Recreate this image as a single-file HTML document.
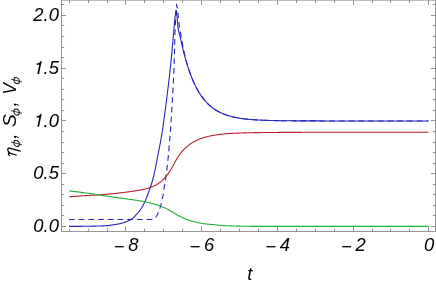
<!DOCTYPE html>
<html><head><meta charset="utf-8"><title>plot</title>
<style>
html,body{margin:0;padding:0;background:#fff;}
body{width:436px;height:284px;overflow:hidden;}
svg{display:block;will-change:transform;}
text{font-family:"Liberation Sans",sans-serif;font-style:italic;font-size:18.4px;fill:#000;}
.up{font-style:normal;}
.gr{font-family:"Liberation Serif",serif;font-style:italic;}
</style></head><body>
<svg width="436" height="284" viewBox="0 0 436 284">
<rect x="0" y="0" width="436" height="284" fill="#fff"/>
<g fill="none" stroke-linejoin="round" stroke-width="1.1">
<path stroke="#2424be" d="M69.00 226.40 L69.50 226.40 L70.00 226.40 L70.50 226.40 L71.00 226.40 L71.50 226.40 L72.00 226.40 L72.50 226.39 L73.00 226.39 L73.50 226.39 L74.00 226.39 L74.50 226.38 L75.00 226.38 L75.50 226.38 L76.00 226.38 L76.50 226.37 L77.00 226.37 L77.50 226.37 L78.00 226.36 L78.50 226.36 L79.00 226.35 L79.50 226.35 L80.00 226.35 L80.50 226.34 L81.00 226.34 L81.50 226.33 L82.00 226.33 L82.50 226.32 L83.00 226.32 L83.50 226.31 L84.00 226.31 L84.50 226.30 L85.00 226.30 L85.50 226.29 L86.00 226.29 L86.50 226.28 L87.00 226.27 L87.50 226.27 L88.00 226.26 L88.50 226.25 L89.00 226.24 L89.50 226.23 L90.00 226.22 L90.50 226.21 L91.00 226.20 L91.50 226.19 L92.00 226.17 L92.50 226.16 L93.00 226.15 L93.50 226.14 L94.00 226.13 L94.50 226.11 L95.00 226.10 L95.50 226.09 L96.00 226.07 L96.50 226.06 L97.00 226.05 L97.50 226.03 L98.00 226.02 L98.50 226.01 L99.00 225.99 L99.50 225.98 L100.00 225.96 L100.50 225.95 L101.00 225.93 L101.50 225.91 L102.00 225.89 L102.50 225.87 L103.00 225.85 L103.50 225.83 L104.00 225.81 L104.50 225.78 L105.00 225.76 L105.50 225.73 L106.00 225.70 L106.50 225.67 L107.00 225.63 L107.50 225.58 L108.00 225.53 L108.50 225.47 L109.00 225.41 L109.50 225.34 L110.00 225.28 L110.50 225.21 L111.00 225.14 L111.50 225.07 L112.00 225.00 L112.50 224.93 L113.00 224.86 L113.50 224.79 L114.00 224.72 L114.50 224.64 L115.00 224.56 L115.50 224.48 L116.00 224.40 L116.50 224.32 L117.00 224.23 L117.50 224.14 L118.00 224.04 L118.50 223.94 L119.00 223.84 L119.50 223.73 L120.00 223.62 L120.50 223.50 L121.00 223.38 L121.50 223.25 L122.00 223.12 L122.50 222.98 L123.00 222.84 L123.50 222.69 L124.00 222.54 L124.50 222.38 L125.00 222.21 L125.50 222.04 L126.00 221.85 L126.50 221.66 L127.00 221.46 L127.50 221.25 L128.00 221.02 L128.50 220.78 L129.00 220.53 L129.50 220.27 L130.00 219.99 L130.50 219.70 L131.00 219.39 L131.50 219.07 L132.00 218.72 L132.50 218.33 L133.00 217.92 L133.50 217.48 L134.00 217.02 L134.50 216.54 L135.00 216.04 L135.50 215.52 L136.00 214.99 L136.50 214.44 L137.00 213.89 L137.50 213.33 L138.00 212.76 L138.50 212.16 L139.00 211.54 L139.50 210.89 L140.00 210.21 L140.50 209.50 L141.00 208.77 L141.50 208.00 L142.00 207.20 L142.50 206.35 L143.00 205.45 L143.50 204.52 L144.00 203.54 L144.50 202.52 L145.00 201.45 L145.50 200.31 L146.00 199.11 L146.50 197.85 L147.00 196.54 L147.20 196.00 L147.39 195.50 L147.58 195.00 L147.77 194.50 L147.96 194.00 L148.15 193.50 L148.33 193.00 L148.51 192.50 L148.70 192.00 L148.87 191.50 L149.05 191.00 L149.23 190.50 L149.40 190.00 L149.57 189.50 L149.74 189.00 L149.91 188.50 L150.09 188.00 L150.26 187.50 L150.43 187.00 L150.60 186.50 L150.77 186.00 L150.93 185.50 L151.10 185.00 L151.27 184.50 L151.43 184.00 L151.59 183.50 L151.75 183.00 L151.91 182.50 L152.06 182.00 L152.22 181.50 L152.37 181.00 L152.51 180.50 L152.66 180.00 L152.80 179.50 L152.94 179.00 L153.07 178.50 L153.20 178.00 L153.33 177.50 L153.45 177.00 L153.58 176.50 L153.70 176.00 L153.82 175.50 L153.93 175.00 L154.05 174.50 L154.17 174.00 L154.28 173.50 L154.39 173.00 L154.50 172.50 L154.61 172.00 L154.72 171.50 L154.82 171.00 L154.93 170.50 L155.03 170.00 L155.14 169.50 L155.24 169.00 L155.34 168.50 L155.44 168.00 L155.54 167.50 L155.64 167.00 L155.74 166.50 L155.84 166.00 L155.93 165.50 L156.03 165.00 L156.13 164.50 L156.22 164.00 L156.32 163.50 L156.42 163.00 L156.52 162.50 L156.61 162.00 L156.71 161.50 L156.81 161.00 L156.90 160.50 L157.00 160.00 L157.10 159.50 L157.20 159.00 L157.30 158.50 L157.40 158.00 L157.49 157.50 L157.59 157.00 L157.69 156.50 L157.79 156.00 L157.89 155.50 L157.99 155.00 L158.08 154.50 L158.18 154.00 L158.28 153.50 L158.38 153.00 L158.47 152.50 L158.57 152.00 L158.67 151.50 L158.76 151.00 L158.86 150.50 L158.96 150.00 L159.05 149.50 L159.15 149.00 L159.25 148.50 L159.34 148.00 L159.44 147.50 L159.53 147.00 L159.63 146.50 L159.72 146.00 L159.81 145.50 L159.91 145.00 L160.00 144.50 L160.09 144.00 L160.19 143.50 L160.28 143.00 L160.37 142.50 L160.46 142.00 L160.55 141.50 L160.64 141.00 L160.73 140.50 L160.82 140.00 L160.91 139.50 L161.00 139.00 L161.09 138.50 L161.18 138.00 L161.26 137.50 L161.35 137.00 L161.44 136.50 L161.52 136.00 L161.61 135.50 L161.69 135.00 L161.77 134.50 L161.86 134.00 L161.94 133.50 L162.02 133.00 L162.10 132.50 L162.18 132.00 L162.26 131.50 L162.34 131.00 L162.42 130.50 L162.50 130.00 L162.58 129.50 L162.65 129.00 L162.73 128.50 L162.80 128.00 L162.87 127.50 L162.94 127.00 L163.02 126.50 L163.08 126.00 L163.15 125.50 L163.22 125.00 L163.29 124.50 L163.36 124.00 L163.43 123.50 L163.49 123.00 L163.56 122.50 L163.63 122.00 L163.70 121.50 L163.76 121.00 L163.83 120.50 L163.90 120.00 L163.97 119.50 L164.04 119.00 L164.11 118.50 L164.17 118.00 L164.24 117.50 L164.31 117.00 L164.38 116.50 L164.45 116.00 L164.52 115.50 L164.58 115.00 L164.65 114.50 L164.72 114.00 L164.79 113.50 L164.86 113.00 L164.92 112.50 L164.99 112.00 L165.06 111.50 L165.12 111.00 L165.19 110.50 L165.26 110.00 L165.33 109.50 L165.39 109.00 L165.46 108.50 L165.52 108.00 L165.59 107.50 L165.66 107.00 L165.72 106.50 L165.79 106.00 L165.85 105.50 L165.92 105.00 L165.98 104.50 L166.05 104.00 L166.11 103.50 L166.17 103.00 L166.24 102.50 L166.30 102.00 L166.36 101.50 L166.43 101.00 L166.49 100.50 L166.55 100.00 L166.61 99.50 L166.68 99.00 L166.74 98.50 L166.80 98.00 L166.86 97.50 L166.93 97.00 L166.99 96.50 L167.05 96.00 L167.11 95.50 L167.17 95.00 L167.23 94.50 L167.30 94.00 L167.36 93.50 L167.42 93.00 L167.48 92.50 L167.54 92.00 L167.60 91.50 L167.66 91.00 L167.72 90.50 L167.78 90.00 L167.85 89.50 L167.91 89.00 L167.97 88.50 L168.03 88.00 L168.09 87.50 L168.15 87.00 L168.21 86.50 L168.27 86.00 L168.33 85.50 L168.38 85.00 L168.44 84.50 L168.50 84.00 L168.56 83.50 L168.62 83.00 L168.68 82.50 L168.74 82.00 L168.80 81.50 L168.85 81.00 L168.91 80.50 L168.97 80.00 L169.03 79.50 L169.08 79.00 L169.14 78.50 L169.20 78.00 L169.26 77.50 L169.31 77.00 L169.37 76.50 L169.43 76.00 L169.48 75.50 L169.54 75.00 L169.59 74.50 L169.65 74.00 L169.70 73.50 L169.76 73.00 L169.81 72.50 L169.87 72.00 L169.92 71.50 L169.98 71.00 L170.03 70.50 L170.09 70.00 L170.14 69.50 L170.19 69.00 L170.25 68.50 L170.30 68.00 L170.35 67.50 L170.41 67.00 L170.46 66.50 L170.51 66.00 L170.56 65.50 L170.61 65.00 L170.67 64.50 L170.72 64.00 L170.77 63.50 L170.82 63.00 L170.87 62.50 L170.92 62.00 L170.97 61.50 L171.02 61.00 L171.07 60.50 L171.12 60.00 L171.17 59.50 L171.22 59.00 L171.27 58.50 L171.32 58.00 L171.37 57.50 L171.42 57.00 L171.47 56.50 L171.52 56.00 L171.56 55.50 L171.61 55.00 L171.66 54.50 L171.71 54.00 L171.76 53.50 L171.81 53.00 L171.85 52.50 L171.90 52.00 L171.95 51.50 L172.00 51.00 L172.04 50.50 L172.09 50.00 L172.14 49.50 L172.19 49.00 L172.23 48.50 L172.28 48.00 L172.33 47.50 L172.37 47.00 L172.42 46.50 L172.47 46.00 L172.51 45.50 L172.56 45.00 L172.60 44.50 L172.65 44.00 L172.70 43.50 L172.74 43.00 L172.79 42.50 L172.83 42.00 L172.88 41.50 L172.93 41.00 L172.97 40.50 L173.02 40.00 L173.06 39.50 L173.11 39.00 L173.15 38.50 L173.20 38.00 L173.25 37.50 L173.29 37.00 L173.33 36.50 L173.38 36.00 L173.42 35.50 L173.47 35.00 L173.51 34.50 L173.55 34.00 L173.60 33.50 L173.64 33.00 L173.68 32.50 L173.73 32.00 L173.77 31.50 L173.81 31.00 L173.86 30.50 L173.90 30.00 L173.94 29.50 L173.99 29.00 L174.03 28.50 L174.07 28.00 L174.12 27.50 L174.16 27.00 L174.20 26.50 L174.25 26.00 L174.29 25.50 L174.33 25.00 L174.38 24.50 L174.42 24.00 L174.47 23.50 L174.51 23.00 L174.56 22.50 L174.60 22.00 L174.65 21.50 L174.70 21.00 L174.75 20.50 L174.80 20.00 L174.85 19.50 L174.90 19.00 L174.95 18.50 L175.00 18.00 L175.06 17.50 L175.11 17.00 L175.17 16.50 L175.22 16.00 L175.28 15.50 L175.34 15.00 L175.40 14.50 L175.46 14.00 L175.53 13.50 L175.60 13.00 L175.67 12.50 L175.74 12.00 L175.80 11.60 L176.10 10.60 L176.45 11.60 L176.51 12.10 L176.58 12.60 L176.64 13.10 L176.70 13.60 L176.76 14.10 L176.81 14.60 L176.86 15.10 L176.91 15.60 L176.96 16.10 L177.00 16.60 L177.04 17.10 L177.09 17.60 L177.13 18.10 L177.17 18.60 L177.22 19.10 L177.26 19.60 L177.31 20.10 L177.36 20.60 L177.40 21.10 L177.45 21.60 L177.49 22.10 L177.53 22.60 L177.58 23.10 L177.62 23.60 L177.67 24.10 L177.71 24.60 L177.76 25.10 L177.81 25.60 L177.87 26.10 L177.92 26.60 L177.98 27.10 L178.05 27.60 L178.11 28.10 L178.19 28.60 L178.28 29.10 L178.37 29.60 L178.47 30.10 L178.58 30.60 L178.69 31.10 L178.81 31.60 L178.93 32.10 L179.06 32.60 L179.19 33.10 L179.32 33.60 L179.46 34.10 L179.59 34.60 L179.72 35.10 L179.86 35.60 L179.99 36.10 L180.11 36.60 L180.24 37.10 L180.36 37.60 L180.47 38.10 L180.58 38.60 L180.70 39.10 L180.81 39.60 L180.92 40.10 L181.03 40.60 L181.14 41.10 L181.24 41.60 L181.35 42.10 L181.46 42.60 L181.57 43.10 L181.67 43.60 L181.76 44.00 L182.14 45.65 L182.51 47.27 L182.89 48.86 L183.27 50.41 L183.65 51.92 L184.03 53.41 L184.41 54.86 L184.79 56.28 L185.16 57.67 L185.54 59.03 L185.92 60.36 L186.30 61.66 L186.68 62.94 L187.06 64.18 L187.44 65.40 L187.81 66.60 L188.19 67.77 L188.57 68.91 L188.95 70.03 L189.33 71.12 L189.71 72.19 L190.09 73.24 L190.47 74.27 L190.84 75.27 L191.22 76.25 L191.60 77.21 L191.98 78.15 L192.36 79.07 L192.74 79.97 L193.12 80.85 L193.49 81.72 L193.87 82.56 L194.25 83.38 L194.63 84.19 L195.01 84.98 L195.39 85.75 L195.77 86.51 L196.14 87.25 L196.52 87.98 L196.90 88.68 L197.28 89.38 L197.66 90.06 L198.04 90.72 L198.42 91.37 L198.79 92.01 L199.17 92.63 L199.55 93.24 L199.93 93.83 L200.31 94.42 L200.69 94.99 L201.07 95.54 L201.44 96.09 L201.82 96.62 L202.20 97.15 L202.58 97.66 L202.96 98.16 L203.34 98.65 L203.72 99.13 L204.09 99.60 L204.47 100.06 L204.85 100.51 L205.23 100.95 L205.61 101.38 L205.99 101.80 L206.37 102.21 L206.74 102.61 L207.12 103.00 L207.50 103.39 L207.88 103.77 L208.26 104.14 L208.64 104.50 L209.02 104.85 L209.40 105.20 L209.77 105.54 L210.15 105.87 L210.53 106.19 L210.91 106.51 L211.29 106.82 L211.67 107.12 L212.05 107.42 L212.42 107.71 L212.80 108.00 L213.18 108.27 L213.56 108.55 L213.94 108.81 L214.32 109.07 L214.70 109.33 L215.07 109.58 L215.45 109.82 L215.83 110.06 L216.21 110.30 L216.59 110.53 L216.97 110.75 L217.35 110.97 L217.72 111.18 L218.10 111.39 L218.48 111.60 L218.86 111.80 L219.24 112.00 L219.62 112.19 L220.00 112.38 L220.37 112.56 L220.75 112.74 L221.13 112.92 L221.51 113.09 L221.89 113.26 L222.27 113.43 L222.65 113.59 L223.02 113.75 L223.40 113.90 L223.78 114.05 L224.16 114.20 L224.54 114.35 L224.92 114.49 L225.30 114.63 L225.67 114.76 L226.05 114.90 L226.43 115.03 L226.81 115.15 L227.19 115.28 L227.57 115.40 L227.95 115.52 L228.33 115.64 L228.70 115.75 L229.08 115.86 L229.46 115.97 L229.84 116.08 L230.22 116.18 L230.60 116.28 L230.98 116.39 L231.35 116.48 L231.73 116.58 L232.11 116.67 L232.49 116.77 L232.87 116.86 L233.25 116.94 L233.63 117.03 L234.00 117.11 L234.38 117.20 L234.76 117.28 L235.14 117.36 L235.52 117.43 L235.90 117.51 L236.28 117.58 L236.65 117.65 L237.03 117.73 L237.41 117.79 L237.79 117.86 L238.17 117.93 L238.55 117.99 L238.93 118.06 L239.30 118.12 L239.68 118.18 L240.06 118.24 L240.44 118.30 L240.82 118.36 L241.20 118.41 L241.58 118.47 L241.95 118.52 L242.33 118.57 L242.71 118.62 L243.09 118.67 L243.47 118.72 L243.85 118.77 L244.23 118.82 L244.60 118.86 L244.98 118.91 L245.36 118.95 L245.74 118.99 L246.12 119.04 L246.50 119.08 L246.88 119.12 L247.26 119.16 L247.63 119.20 L248.01 119.23 L248.39 119.27 L248.77 119.31 L249.15 119.34 L249.53 119.38 L249.91 119.41 L250.28 119.44 L250.66 119.48 L251.04 119.51 L251.42 119.54 L251.80 119.57 L252.18 119.60 L252.56 119.63 L252.93 119.66 L253.31 119.68 L253.69 119.71 L254.07 119.74 L254.45 119.76 L254.83 119.79 L255.21 119.81 L255.58 119.84 L255.96 119.86 L256.34 119.89 L256.72 119.91 L257.10 119.93 L257.48 119.95 L257.86 119.97 L258.23 120.00 L258.61 120.02 L258.99 120.04 L259.37 120.06 L259.75 120.07 L260.13 120.09 L260.51 120.11 L260.88 120.13 L261.26 120.15 L261.64 120.16 L262.02 120.18 L262.40 120.20 L262.78 120.21 L263.16 120.23 L263.53 120.25 L263.91 120.26 L264.29 120.28 L264.67 120.29 L265.05 120.30 L265.43 120.32 L265.81 120.33 L266.19 120.34 L266.56 120.36 L266.94 120.37 L267.32 120.38 L267.70 120.40 L268.08 120.41 L268.46 120.42 L268.84 120.43 L269.21 120.44 L269.59 120.45 L269.97 120.46 L270.35 120.47 L270.73 120.48 L271.11 120.49 L271.49 120.50 L271.86 120.51 L272.24 120.52 L272.62 120.53 L273.00 120.54 L273.38 120.55 L273.76 120.56 L274.14 120.57 L274.51 120.57 L274.89 120.58 L275.27 120.59 L275.65 120.60 L276.03 120.61 L276.41 120.61 L276.79 120.62 L277.16 120.63 L277.54 120.63 L277.92 120.64 L278.30 120.65 L278.68 120.65 L279.06 120.66 L279.44 120.67 L279.81 120.67 L280.19 120.68 L280.57 120.69 L280.95 120.69 L281.33 120.70 L281.71 120.70 L282.09 120.71 L282.46 120.71 L282.84 120.72 L283.22 120.72 L283.60 120.73 L283.98 120.73 L284.36 120.74 L284.74 120.74 L285.12 120.75 L285.49 120.75 L285.87 120.75 L286.25 120.76 L286.63 120.76 L287.01 120.77 L287.39 120.77 L287.77 120.77 L288.14 120.78 L288.52 120.78 L288.90 120.79 L289.28 120.79 L289.66 120.79 L290.04 120.80 L290.42 120.80 L290.79 120.80 L291.17 120.81 L291.55 120.81 L291.93 120.81 L292.31 120.81 L292.69 120.82 L293.07 120.82 L293.44 120.82 L293.82 120.83 L294.20 120.83 L294.58 120.83 L294.96 120.83 L295.34 120.84 L295.72 120.84 L296.09 120.84 L296.47 120.84 L296.85 120.85 L297.23 120.85 L297.61 120.85 L297.99 120.85 L298.37 120.85 L298.74 120.86 L299.12 120.86 L299.50 120.86 L299.88 120.86 L300.26 120.86 L300.64 120.87 L301.02 120.87 L301.39 120.87 L301.77 120.87 L302.15 120.87 L302.53 120.87 L302.91 120.88 L303.29 120.88 L303.67 120.88 L304.05 120.88 L304.42 120.88 L304.80 120.88 L305.18 120.89 L305.56 120.89 L305.94 120.89 L306.32 120.89 L306.70 120.89 L307.07 120.89 L307.45 120.89 L307.83 120.89 L308.21 120.90 L308.59 120.90 L308.97 120.90 L309.35 120.90 L309.72 120.90 L310.10 120.90 L310.48 120.90 L310.86 120.90 L311.24 120.90 L311.62 120.91 L312.00 120.91 L312.37 120.91 L312.75 120.91 L313.13 120.91 L313.51 120.91 L313.89 120.91 L314.27 120.91 L314.65 120.91 L315.02 120.91 L315.40 120.91 L315.78 120.91 L316.16 120.92 L316.54 120.92 L316.92 120.92 L317.30 120.92 L317.67 120.92 L318.05 120.92 L318.43 120.92 L318.81 120.92 L319.19 120.92 L319.57 120.92 L319.95 120.92 L320.32 120.92 L320.70 120.92 L321.08 120.92 L321.46 120.92 L321.84 120.93 L322.22 120.93 L322.60 120.93 L322.98 120.93 L323.35 120.93 L323.73 120.93 L324.11 120.93 L324.49 120.93 L324.87 120.93 L325.25 120.93 L325.63 120.93 L326.00 120.93 L326.38 120.93 L326.76 120.93 L327.14 120.93 L327.52 120.93 L327.90 120.93 L328.28 120.93 L328.65 120.93 L329.03 120.93 L329.41 120.93 L329.79 120.93 L330.17 120.93 L330.55 120.93 L330.93 120.94 L331.30 120.94 L331.68 120.94 L332.06 120.94 L332.44 120.94 L332.82 120.94 L333.20 120.94 L333.58 120.94 L333.95 120.94 L334.33 120.94 L334.71 120.94 L335.09 120.94 L335.47 120.94 L335.85 120.94 L336.23 120.94 L336.60 120.94 L336.98 120.94 L337.36 120.94 L337.74 120.94 L338.12 120.94 L338.50 120.94 L338.88 120.94 L339.25 120.94 L339.63 120.94 L340.01 120.94 L340.39 120.94 L340.77 120.94 L341.15 120.94 L341.53 120.94 L341.91 120.94 L342.28 120.94 L342.66 120.94 L343.04 120.94 L343.42 120.94 L343.80 120.94 L344.18 120.94 L344.56 120.94 L344.93 120.94 L345.31 120.94 L345.69 120.94 L346.07 120.94 L346.45 120.94 L346.83 120.94 L347.21 120.94 L347.58 120.94 L347.96 120.94 L348.34 120.94 L348.72 120.94 L349.10 120.94 L349.48 120.94 L349.86 120.95 L350.23 120.95 L350.61 120.95 L350.99 120.95 L351.37 120.95 L351.75 120.95 L352.13 120.95 L352.51 120.95 L352.88 120.95 L353.26 120.95 L353.64 120.95 L354.02 120.95 L354.40 120.95 L354.78 120.95 L355.16 120.95 L355.53 120.95 L355.91 120.95 L356.29 120.95 L356.67 120.95 L357.05 120.95 L357.43 120.95 L357.81 120.95 L358.18 120.95 L358.56 120.95 L358.94 120.95 L359.32 120.95 L359.70 120.95 L360.08 120.95 L360.46 120.95 L360.84 120.95 L361.21 120.95 L361.59 120.95 L361.97 120.95 L362.35 120.95 L362.73 120.95 L363.11 120.95 L363.49 120.95 L363.86 120.95 L364.24 120.95 L364.62 120.95 L365.00 120.95 L365.38 120.95 L365.76 120.95 L366.14 120.95 L366.51 120.95 L366.89 120.95 L367.27 120.95 L367.65 120.95 L368.03 120.95 L368.41 120.95 L368.79 120.95 L369.16 120.95 L369.54 120.95 L369.92 120.95 L370.30 120.95 L370.68 120.95 L371.06 120.95 L371.44 120.95 L371.81 120.95 L372.19 120.95 L372.57 120.95 L372.95 120.95 L373.33 120.95 L373.71 120.95 L374.09 120.95 L374.46 120.95 L374.84 120.95 L375.22 120.95 L375.60 120.95 L375.98 120.95 L376.36 120.95 L376.74 120.95 L377.11 120.95 L377.49 120.95 L377.87 120.95 L378.25 120.95 L378.63 120.95 L379.01 120.95 L379.39 120.95 L379.77 120.95 L380.14 120.95 L380.52 120.95 L380.90 120.95 L381.28 120.95 L381.66 120.95 L382.04 120.95 L382.42 120.95 L382.79 120.95 L383.17 120.95 L383.55 120.95 L383.93 120.95 L384.31 120.95 L384.69 120.95 L385.07 120.95 L385.44 120.95 L385.82 120.95 L386.20 120.95 L386.58 120.95 L386.96 120.95 L387.34 120.95 L387.72 120.95 L388.09 120.95 L388.47 120.95 L388.85 120.95 L389.23 120.95 L389.61 120.95 L389.99 120.95 L390.37 120.95 L390.74 120.95 L391.12 120.95 L391.50 120.95 L391.88 120.95 L392.26 120.95 L392.64 120.95 L393.02 120.95 L393.39 120.95 L393.77 120.95 L394.15 120.95 L394.53 120.95 L394.91 120.95 L395.29 120.95 L395.67 120.95 L396.04 120.95 L396.42 120.95 L396.80 120.95 L397.18 120.95 L397.56 120.95 L397.94 120.95 L398.32 120.95 L398.70 120.95 L399.07 120.95 L399.45 120.95 L399.83 120.95 L400.21 120.95 L400.59 120.95 L400.97 120.95 L401.35 120.95 L401.72 120.95 L402.10 120.95 L402.48 120.95 L402.86 120.95 L403.24 120.95 L403.62 120.95 L404.00 120.95 L404.37 120.95 L404.75 120.95 L405.13 120.95 L405.51 120.95 L405.89 120.95 L406.27 120.95 L406.65 120.95 L407.02 120.95 L407.40 120.95 L407.78 120.95 L408.16 120.95 L408.54 120.95 L408.92 120.95 L409.30 120.95 L409.67 120.95 L410.05 120.95 L410.43 120.95 L410.81 120.95 L411.19 120.95 L411.57 120.95 L411.95 120.95 L412.32 120.95 L412.70 120.95 L413.08 120.95 L413.46 120.95 L413.84 120.95 L414.22 120.95 L414.60 120.95 L414.97 120.95 L415.35 120.95 L415.73 120.95 L416.11 120.95 L416.49 120.95 L416.87 120.95 L417.25 120.95 L417.63 120.95 L418.00 120.95 L418.38 120.95 L418.76 120.95 L419.14 120.95 L419.52 120.95 L419.90 120.95 L420.28 120.95 L420.65 120.95 L421.03 120.95 L421.41 120.95 L421.79 120.95 L422.17 120.95 L422.55 120.95 L422.93 120.95 L423.30 120.95 L423.68 120.95 L424.06 120.95 L424.44 120.95 L424.82 120.95 L425.20 120.95 L425.58 120.95 L425.95 120.95 L426.33 120.95 L426.71 120.95 L427.09 120.95 L427.47 120.95 L427.85 120.95 L428.23 120.95"/>
<path stroke="#2424be" stroke-dasharray="5.7 4" d="M69.00 219.45 L151.00 219.45 L151.25 219.44 L151.50 219.43 L151.75 219.41 L152.00 219.38 L152.25 219.34 L152.50 219.30 L152.75 219.25 L153.00 219.20 L153.25 219.13 L153.50 219.03 L153.75 218.91 L154.00 218.76 L154.25 218.59 L154.50 218.40 L154.75 218.19 L155.00 217.98 L155.25 217.75 L155.50 217.50 L155.75 217.19 L156.00 216.85 L156.25 216.48 L156.50 216.07 L156.75 215.63 L157.00 215.16 L157.25 214.67 L157.50 214.16 L157.75 213.63 L158.00 213.09 L158.25 212.54 L158.50 211.97 L158.75 211.32 L159.00 210.61 L159.25 209.86 L159.40 209.40 L159.60 208.90 L159.79 208.40 L159.98 207.90 L160.15 207.40 L160.32 206.90 L160.48 206.40 L160.63 205.90 L160.78 205.40 L160.91 204.90 L161.04 204.40 L161.16 203.90 L161.26 203.40 L161.35 202.90 L161.44 202.40 L161.51 201.90 L161.59 201.40 L161.67 200.90 L161.76 200.40 L161.86 199.90 L161.98 199.40 L162.11 198.90 L162.25 198.40 L162.39 197.90 L162.54 197.40 L162.68 196.90 L162.81 196.40 L162.94 195.90 L163.05 195.40 L163.15 194.90 L163.23 194.40 L163.29 193.90 L163.35 193.40 L163.40 192.90 L163.45 192.40 L163.49 191.90 L163.54 191.40 L163.59 190.90 L163.65 190.40 L163.71 189.90 L163.79 189.40 L163.88 188.90 L163.98 188.40 L164.09 187.90 L164.20 187.40 L164.30 186.90 L164.41 186.40 L164.51 185.90 L164.60 185.40 L164.69 184.90 L164.77 184.40 L164.85 183.90 L164.93 183.40 L165.01 182.90 L165.09 182.40 L165.16 181.90 L165.24 181.40 L165.31 180.90 L165.39 180.40 L165.46 179.90 L165.53 179.40 L165.60 178.90 L165.67 178.40 L165.74 177.90 L165.81 177.40 L165.88 176.90 L165.95 176.40 L166.02 175.90 L166.09 175.40 L166.16 174.90 L166.23 174.40 L166.30 173.90 L166.36 173.40 L166.43 172.90 L166.50 172.40 L166.56 171.90 L166.63 171.40 L166.69 170.90 L166.75 170.40 L166.82 169.90 L166.88 169.40 L166.94 168.90 L167.00 168.40 L167.06 167.90 L167.12 167.40 L167.18 166.90 L167.24 166.40 L167.30 165.90 L167.36 165.40 L167.41 164.90 L167.47 164.40 L167.52 163.90 L167.58 163.40 L167.63 162.90 L167.69 162.40 L167.74 161.90 L167.79 161.40 L167.84 160.90 L167.90 160.40 L167.95 159.90 L168.00 159.40 L168.05 158.90 L168.10 158.40 L168.15 157.90 L168.20 157.40 L168.25 156.90 L168.30 156.40 L168.34 155.90 L168.39 155.40 L168.44 154.90 L168.49 154.40 L168.53 153.90 L168.58 153.40 L168.63 152.90 L168.67 152.40 L168.72 151.90 L168.77 151.40 L168.81 150.90 L168.86 150.40 L168.90 149.90 L168.94 149.40 L168.99 148.90 L169.03 148.40 L169.07 147.90 L169.12 147.40 L169.16 146.90 L169.20 146.40 L169.24 145.90 L169.29 145.40 L169.33 144.90 L169.37 144.40 L169.41 143.90 L169.45 143.40 L169.49 142.90 L169.53 142.40 L169.58 141.90 L169.62 141.40 L169.66 140.90 L169.70 140.40 L169.74 139.90 L169.78 139.40 L169.82 138.90 L169.86 138.40 L169.90 137.90 L169.94 137.40 L169.98 136.90 L170.02 136.40 L170.06 135.90 L170.10 135.40 L170.14 134.90 L170.18 134.40 L170.22 133.90 L170.25 133.40 L170.29 132.90 L170.33 132.40 L170.36 131.90 L170.40 131.40 L170.44 130.90 L170.47 130.40 L170.51 129.90 L170.54 129.40 L170.58 128.90 L170.61 128.40 L170.64 127.90 L170.68 127.40 L170.71 126.90 L170.74 126.40 L170.78 125.90 L170.81 125.40 L170.84 124.90 L170.87 124.40 L170.91 123.90 L170.94 123.40 L170.97 122.90 L171.00 122.40 L171.03 121.90 L171.06 121.40 L171.10 120.90 L171.13 120.40 L171.16 119.90 L171.19 119.40 L171.22 118.90 L171.25 118.40 L171.28 117.90 L171.31 117.40 L171.34 116.90 L171.37 116.40 L171.40 115.90 L171.43 115.40 L171.46 114.90 L171.49 114.40 L171.52 113.90 L171.55 113.40 L171.58 112.90 L171.61 112.40 L171.63 111.90 L171.66 111.40 L171.69 110.90 L171.72 110.40 L171.75 109.90 L171.78 109.40 L171.81 108.90 L171.84 108.40 L171.87 107.90 L171.89 107.40 L171.92 106.90 L171.95 106.40 L171.98 105.90 L172.01 105.40 L172.04 104.90 L172.06 104.40 L172.09 103.90 L172.12 103.40 L172.15 102.90 L172.18 102.40 L172.21 101.90 L172.23 101.40 L172.26 100.90 L172.29 100.40 L172.32 99.90 L172.35 99.40 L172.38 98.90 L172.41 98.40 L172.44 97.90 L172.46 97.40 L172.49 96.90 L172.52 96.40 L172.55 95.90 L172.58 95.40 L172.61 94.90 L172.64 94.40 L172.67 93.90 L172.70 93.40 L172.73 92.90 L172.76 92.40 L172.79 91.90 L172.81 91.40 L172.84 90.90 L172.87 90.40 L172.90 89.90 L172.93 89.40 L172.96 88.90 L172.99 88.40 L173.02 87.90 L173.05 87.40 L173.07 86.90 L173.10 86.40 L173.13 85.90 L173.16 85.40 L173.19 84.90 L173.21 84.40 L173.24 83.90 L173.27 83.40 L173.30 82.90 L173.32 82.40 L173.35 81.90 L173.38 81.40 L173.40 80.90 L173.43 80.40 L173.46 79.90 L173.48 79.40 L173.51 78.90 L173.53 78.40 L173.56 77.90 L173.58 77.40 L173.61 76.90 L173.63 76.40 L173.66 75.90 L173.68 75.40 L173.71 74.90 L173.73 74.40 L173.75 73.90 L173.78 73.40 L173.80 72.90 L173.82 72.40 L173.84 71.90 L173.86 71.40 L173.88 70.90 L173.91 70.40 L173.93 69.90 L173.95 69.40 L173.97 68.90 L173.98 68.40 L174.00 67.90 L174.02 67.40 L174.04 66.90 L174.06 66.40 L174.08 65.90 L174.09 65.40 L174.11 64.90 L174.13 64.40 L174.14 63.90 L174.16 63.40 L174.18 62.90 L174.19 62.40 L174.21 61.90 L174.22 61.40 L174.24 60.90 L174.25 60.40 L174.26 59.90 L174.28 59.40 L174.29 58.90 L174.31 58.40 L174.32 57.90 L174.33 57.40 L174.35 56.90 L174.36 56.40 L174.37 55.90 L174.39 55.40 L174.40 54.90 L174.41 54.40 L174.42 53.90 L174.44 53.40 L174.45 52.90 L174.46 52.40 L174.47 51.90 L174.49 51.40 L174.50 50.90 L174.51 50.40 L174.52 49.90 L174.54 49.40 L174.55 48.90 L174.56 48.40 L174.57 47.90 L174.58 47.40 L174.60 46.90 L174.61 46.40 L174.62 45.90 L174.63 45.40 L174.65 44.90 L174.66 44.40 L174.67 43.90 L174.68 43.40 L174.70 42.90 L174.71 42.40 L174.72 41.90 L174.74 41.40 L174.75 40.90 L174.76 40.40 L174.78 39.90 L174.79 39.40 L174.81 38.90 L174.82 38.40 L174.83 37.90 L174.85 37.40 L174.86 36.90 L174.88 36.40 L174.90 35.90 L174.91 35.40 L174.93 34.90 L174.94 34.40 L174.96 33.90 L174.98 33.40 L174.99 32.90 L175.01 32.40 L175.03 31.90 L175.05 31.40 L175.07 30.90 L175.08 30.40 L175.10 29.90 L175.12 29.40 L175.14 28.90 L175.16 28.40 L175.18 27.90 L175.21 27.40 L175.23 26.90 L175.25 26.40 L175.27 25.90 L175.29 25.40 L175.32 24.90 L175.34 24.40 L175.37 23.90 L175.39 23.40 L175.41 22.90 L175.44 22.40 L175.46 21.90 L175.49 21.40 L175.52 20.90 L175.54 20.40 L175.57 19.90 L175.59 19.40 L175.62 18.90 L175.65 18.40 L175.68 17.90 L175.70 17.40 L175.73 16.90 L175.76 16.40 L175.79 15.90 L175.82 15.40 L175.85 14.90 L175.88 14.40 L175.91 13.90 L175.94 13.40 L175.97 12.90 L176.00 12.40 L176.03 11.90 L176.06 11.40 L176.09 10.90 L176.12 10.40 L176.15 9.90 L176.18 9.40 L176.21 8.90 L176.24 8.40 L176.27 7.90 L176.31 7.40 L176.34 6.90 L176.37 6.40 L176.40 5.90 L176.44 5.40 L176.47 4.90 L176.50 4.40 L176.50 4.40 L176.59 4.90 L176.69 5.40 L176.78 5.90 L176.87 6.40 L176.96 6.90 L177.04 7.40 L177.13 7.90 L177.21 8.40 L177.28 8.90 L177.36 9.40 L177.43 9.90 L177.50 10.40 L177.57 10.90 L177.64 11.40 L177.70 11.90 L177.77 12.40 L177.83 12.90 L177.89 13.40 L177.95 13.90 L178.02 14.40 L178.08 14.90 L178.14 15.40 L178.20 15.90 L178.26 16.40 L178.32 16.90 L178.38 17.40 L178.44 17.90 L178.49 18.40 L178.55 18.90 L178.61 19.40 L178.66 19.90 L178.72 20.40 L178.77 20.90 L178.82 21.40 L178.87 21.90 L178.93 22.40 L178.98 22.90 L179.03 23.40 L179.09 23.90 L179.14 24.40 L179.20 24.90 L179.26 25.40 L179.32 25.90 L179.38 26.40 L179.45 26.90 L179.51 27.40 L179.59 27.90 L179.66 28.40 L179.74 28.90 L179.83 29.40 L179.92 29.90 L180.01 30.40 L180.11 30.90 L180.21 31.40 L180.31 31.90 L180.42 32.40 L180.52 32.90 L180.62 33.40 L180.72 33.90 L180.82 34.40 L180.91 34.90 L181.00 35.40 L181.09 35.90 L181.18 36.40 L181.27 36.90 L181.36 37.40 L181.44 37.90 L181.53 38.40 L181.61 38.90 L181.70 39.40 L181.78 39.90 L181.87 40.40 L181.95 40.90 L182.04 41.40 L182.13 41.90 L182.21 42.40 L182.30 42.90 L182.39 43.40 L182.48 43.90 L182.57 44.40 L182.67 44.90 L182.76 45.40 L182.86 45.90 L182.95 46.40 L183.05 46.90 L183.15 47.40 L183.25 47.90 L183.34 48.40 L183.44 48.90 L183.54 49.40 L183.65 49.90 L183.75 50.40 L183.85 50.90 L183.96 51.40 L184.06 51.90 L184.17 52.40 L184.28 52.90 L184.39 53.40 L184.50 53.90 L184.61 54.40 L184.72 54.90 L184.84 55.40 L184.95 55.90 L185.07 56.40 L185.19 56.90 L185.31 57.40 L185.43 57.90 L185.55 58.40 L185.67 58.90 L185.80 59.40 L185.92 59.90 L186.05 60.40 L186.18 60.90 L186.31 61.40 L186.45 61.90 L186.58 62.40 L186.72 62.90 L186.85 63.40 L186.99 63.90 L187.14 64.40 L187.28 64.90 L187.43 65.40 L187.58 65.90 L187.73 66.40 L187.89 66.90 L188.06 67.40 L188.22 67.90 L188.39 68.40 L188.56 68.90 L188.73 69.40 L188.91 69.90 L188.94 70.00 L189.32 71.10 L189.70 72.17 L190.08 73.22 L190.46 74.24 L190.83 75.25 L191.21 76.23 L191.59 77.19 L191.97 78.13 L192.35 79.05 L192.73 79.95 L193.11 80.83 L193.48 81.69 L193.86 82.54 L194.24 83.36 L194.62 84.17 L195.00 84.96 L195.38 85.74 L195.76 86.49 L196.13 87.23 L196.51 87.96 L196.89 88.67 L197.27 89.36 L197.65 90.04 L198.03 90.70 L198.41 91.35 L198.78 91.99 L199.16 92.61 L199.54 93.22 L199.92 93.82 L200.30 94.40 L200.68 94.97 L201.06 95.53 L201.44 96.08 L201.81 96.61 L202.19 97.13 L202.57 97.65 L202.95 98.15 L203.33 98.64 L203.71 99.12 L204.09 99.59 L204.46 100.05 L204.84 100.50 L205.22 100.93 L205.60 101.36 L205.98 101.79 L206.36 102.20 L206.74 102.60 L207.11 103.00 L207.49 103.38 L207.87 103.76 L208.25 104.13 L208.63 104.49 L209.01 104.84 L209.39 105.19 L209.76 105.53 L210.14 105.86 L210.52 106.18 L210.90 106.50 L211.28 106.81 L211.66 107.12 L212.04 107.41 L212.41 107.70 L212.79 107.99 L213.17 108.27 L213.55 108.54 L213.93 108.81 L214.31 109.07 L214.69 109.32 L215.06 109.57 L215.44 109.82 L215.82 110.06 L216.20 110.29 L216.58 110.52 L216.96 110.74 L217.34 110.96 L217.71 111.18 L218.09 111.39 L218.47 111.59 L218.85 111.80 L219.23 111.99 L219.61 112.18 L219.99 112.37 L220.37 112.56 L220.74 112.74 L221.12 112.91 L221.50 113.09 L221.88 113.26 L222.26 113.42 L222.64 113.58 L223.02 113.74 L223.39 113.90 L223.77 114.05 L224.15 114.20 L224.53 114.34 L224.91 114.48 L225.29 114.62 L225.67 114.76 L226.04 114.89 L226.42 115.02 L226.80 115.15 L227.18 115.27 L227.56 115.40 L227.94 115.52 L228.32 115.63 L228.69 115.75 L229.07 115.86 L229.45 115.97 L229.83 116.08 L230.21 116.18 L230.59 116.28 L230.97 116.38 L231.34 116.48 L231.72 116.58 L232.10 116.67 L232.48 116.76 L232.86 116.85 L233.24 116.94 L233.62 117.03 L233.99 117.11 L234.37 117.19 L234.75 117.27 L235.13 117.35 L235.51 117.43 L235.89 117.51 L236.27 117.58 L236.64 117.65 L237.02 117.72 L237.40 117.79 L237.78 117.86 L238.16 117.93 L238.54 117.99 L238.92 118.06 L239.30 118.12 L239.67 118.18 L240.05 118.24 L240.43 118.30 L240.81 118.35 L241.19 118.41 L241.57 118.46 L241.95 118.52 L242.32 118.57 L242.70 118.62 L243.08 118.67 L243.46 118.72 L243.84 118.77 L244.22 118.82 L244.60 118.86 L244.97 118.91 L245.35 118.95 L245.73 118.99 L246.11 119.03 L246.49 119.08 L246.87 119.12 L247.25 119.16 L247.62 119.19 L248.00 119.23 L248.38 119.27 L248.76 119.31 L249.14 119.34 L249.52 119.38 L249.90 119.41 L250.27 119.44 L250.65 119.47 L251.03 119.51 L251.41 119.54 L251.79 119.57 L252.17 119.60 L252.55 119.63 L252.92 119.65 L253.30 119.68 L253.68 119.71 L254.06 119.74 L254.44 119.76 L254.82 119.79 L255.20 119.81 L255.57 119.84 L255.95 119.86 L256.33 119.88 L256.71 119.91 L257.09 119.93 L257.47 119.95 L257.85 119.97 L258.23 119.99 L258.60 120.02 L258.98 120.04 L259.36 120.05 L259.74 120.07 L260.12 120.09 L260.50 120.11 L260.88 120.13 L261.25 120.15 L261.63 120.16 L262.01 120.18 L262.39 120.20 L262.77 120.21 L263.15 120.23 L263.53 120.25 L263.90 120.26 L264.28 120.28 L264.66 120.29 L265.04 120.30 L265.42 120.32 L265.80 120.33 L266.18 120.34 L266.55 120.36 L266.93 120.37 L267.31 120.38 L267.69 120.40 L268.07 120.41 L268.45 120.42 L268.83 120.43 L269.20 120.44 L269.58 120.45 L269.96 120.46 L270.34 120.47 L270.72 120.48 L271.10 120.49 L271.48 120.50 L271.85 120.51 L272.23 120.52 L272.61 120.53 L272.99 120.54 L273.37 120.55 L273.75 120.56 L274.13 120.57 L274.50 120.57 L274.88 120.58 L275.26 120.59 L275.64 120.60 L276.02 120.61 L276.40 120.61 L276.78 120.62 L277.16 120.63 L277.53 120.63 L277.91 120.64 L278.29 120.65 L278.67 120.65 L279.05 120.66 L279.43 120.67 L279.81 120.67 L280.18 120.68 L280.56 120.68 L280.94 120.69 L281.32 120.70 L281.70 120.70 L282.08 120.71 L282.46 120.71 L282.83 120.72 L283.21 120.72 L283.59 120.73 L283.97 120.73 L284.35 120.74 L284.73 120.74 L285.11 120.75 L285.48 120.75 L285.86 120.75 L286.24 120.76 L286.62 120.76 L287.00 120.77 L287.38 120.77 L287.76 120.77 L288.13 120.78 L288.51 120.78 L288.89 120.79 L289.27 120.79 L289.65 120.79 L290.03 120.80 L290.41 120.80 L290.78 120.80 L291.16 120.81 L291.54 120.81 L291.92 120.81 L292.30 120.81 L292.68 120.82 L293.06 120.82 L293.43 120.82 L293.81 120.83 L294.19 120.83 L294.57 120.83 L294.95 120.83 L295.33 120.84 L295.71 120.84 L296.09 120.84 L296.46 120.84 L296.84 120.85 L297.22 120.85 L297.60 120.85 L297.98 120.85 L298.36 120.85 L298.74 120.86 L299.11 120.86 L299.49 120.86 L299.87 120.86 L300.25 120.86 L300.63 120.87 L301.01 120.87 L301.39 120.87 L301.76 120.87 L302.14 120.87 L302.52 120.87 L302.90 120.88 L303.28 120.88 L303.66 120.88 L304.04 120.88 L304.41 120.88 L304.79 120.88 L305.17 120.89 L305.55 120.89 L305.93 120.89 L306.31 120.89 L306.69 120.89 L307.06 120.89 L307.44 120.89 L307.82 120.89 L308.20 120.90 L308.58 120.90 L308.96 120.90 L309.34 120.90 L309.71 120.90 L310.09 120.90 L310.47 120.90 L310.85 120.90 L311.23 120.90 L311.61 120.91 L311.99 120.91 L312.36 120.91 L312.74 120.91 L313.12 120.91 L313.50 120.91 L313.88 120.91 L314.26 120.91 L314.64 120.91 L315.02 120.91 L315.39 120.91 L315.77 120.91 L316.15 120.92 L316.53 120.92 L316.91 120.92 L317.29 120.92 L317.67 120.92 L318.04 120.92 L318.42 120.92 L318.80 120.92 L319.18 120.92 L319.56 120.92 L319.94 120.92 L320.32 120.92 L320.69 120.92 L321.07 120.92 L321.45 120.92 L321.83 120.93 L322.21 120.93 L322.59 120.93 L322.97 120.93 L323.34 120.93 L323.72 120.93 L324.10 120.93 L324.48 120.93 L324.86 120.93 L325.24 120.93 L325.62 120.93 L325.99 120.93 L326.37 120.93 L326.75 120.93 L327.13 120.93 L327.51 120.93 L327.89 120.93 L328.27 120.93 L328.64 120.93 L329.02 120.93 L329.40 120.93 L329.78 120.93 L330.16 120.93 L330.54 120.93 L330.92 120.94 L331.29 120.94 L331.67 120.94 L332.05 120.94 L332.43 120.94 L332.81 120.94 L333.19 120.94 L333.57 120.94 L333.95 120.94 L334.32 120.94 L334.70 120.94 L335.08 120.94 L335.46 120.94 L335.84 120.94 L336.22 120.94 L336.60 120.94 L336.97 120.94 L337.35 120.94 L337.73 120.94 L338.11 120.94 L338.49 120.94 L338.87 120.94 L339.25 120.94 L339.62 120.94 L340.00 120.94 L340.38 120.94 L340.76 120.94 L341.14 120.94 L341.52 120.94 L341.90 120.94 L342.27 120.94 L342.65 120.94 L343.03 120.94 L343.41 120.94 L343.79 120.94 L344.17 120.94 L344.55 120.94 L344.92 120.94 L345.30 120.94 L345.68 120.94 L346.06 120.94 L346.44 120.94 L346.82 120.94 L347.20 120.94 L347.57 120.94 L347.95 120.94 L348.33 120.94 L348.71 120.94 L349.09 120.94 L349.47 120.94 L349.85 120.95 L350.22 120.95 L350.60 120.95 L350.98 120.95 L351.36 120.95 L351.74 120.95 L352.12 120.95 L352.50 120.95 L352.88 120.95 L353.25 120.95 L353.63 120.95 L354.01 120.95 L354.39 120.95 L354.77 120.95 L355.15 120.95 L355.53 120.95 L355.90 120.95 L356.28 120.95 L356.66 120.95 L357.04 120.95 L357.42 120.95 L357.80 120.95 L358.18 120.95 L358.55 120.95 L358.93 120.95 L359.31 120.95 L359.69 120.95 L360.07 120.95 L360.45 120.95 L360.83 120.95 L361.20 120.95 L361.58 120.95 L361.96 120.95 L362.34 120.95 L362.72 120.95 L363.10 120.95 L363.48 120.95 L363.85 120.95 L364.23 120.95 L364.61 120.95 L364.99 120.95 L365.37 120.95 L365.75 120.95 L366.13 120.95 L366.50 120.95 L366.88 120.95 L367.26 120.95 L367.64 120.95 L368.02 120.95 L368.40 120.95 L368.78 120.95 L369.15 120.95 L369.53 120.95 L369.91 120.95 L370.29 120.95 L370.67 120.95 L371.05 120.95 L371.43 120.95 L371.81 120.95 L372.18 120.95 L372.56 120.95 L372.94 120.95 L373.32 120.95 L373.70 120.95 L374.08 120.95 L374.46 120.95 L374.83 120.95 L375.21 120.95 L375.59 120.95 L375.97 120.95 L376.35 120.95 L376.73 120.95 L377.11 120.95 L377.48 120.95 L377.86 120.95 L378.24 120.95 L378.62 120.95 L379.00 120.95 L379.38 120.95 L379.76 120.95 L380.13 120.95 L380.51 120.95 L380.89 120.95 L381.27 120.95 L381.65 120.95 L382.03 120.95 L382.41 120.95 L382.78 120.95 L383.16 120.95 L383.54 120.95 L383.92 120.95 L384.30 120.95 L384.68 120.95 L385.06 120.95 L385.43 120.95 L385.81 120.95 L386.19 120.95 L386.57 120.95 L386.95 120.95 L387.33 120.95 L387.71 120.95 L388.08 120.95 L388.46 120.95 L388.84 120.95 L389.22 120.95 L389.60 120.95 L389.98 120.95 L390.36 120.95 L390.74 120.95 L391.11 120.95 L391.49 120.95 L391.87 120.95 L392.25 120.95 L392.63 120.95 L393.01 120.95 L393.39 120.95 L393.76 120.95 L394.14 120.95 L394.52 120.95 L394.90 120.95 L395.28 120.95 L395.66 120.95 L396.04 120.95 L396.41 120.95 L396.79 120.95 L397.17 120.95 L397.55 120.95 L397.93 120.95 L398.31 120.95 L398.69 120.95 L399.06 120.95 L399.44 120.95 L399.82 120.95 L400.20 120.95 L400.58 120.95 L400.96 120.95 L401.34 120.95 L401.71 120.95 L402.09 120.95 L402.47 120.95 L402.85 120.95 L403.23 120.95 L403.61 120.95 L403.99 120.95 L404.36 120.95 L404.74 120.95 L405.12 120.95 L405.50 120.95 L405.88 120.95 L406.26 120.95 L406.64 120.95 L407.01 120.95 L407.39 120.95 L407.77 120.95 L408.15 120.95 L408.53 120.95 L408.91 120.95 L409.29 120.95 L409.67 120.95 L410.04 120.95 L410.42 120.95 L410.80 120.95 L411.18 120.95 L411.56 120.95 L411.94 120.95 L412.32 120.95 L412.69 120.95 L413.07 120.95 L413.45 120.95 L413.83 120.95 L414.21 120.95 L414.59 120.95 L414.97 120.95 L415.34 120.95 L415.72 120.95 L416.10 120.95 L416.48 120.95 L416.86 120.95 L417.24 120.95 L417.62 120.95 L417.99 120.95 L418.37 120.95 L418.75 120.95 L419.13 120.95 L419.51 120.95 L419.89 120.95 L420.27 120.95 L420.64 120.95 L421.02 120.95 L421.40 120.95 L421.78 120.95 L422.16 120.95 L422.54 120.95 L422.92 120.95 L423.29 120.95 L423.67 120.95 L424.05 120.95 L424.43 120.95 L424.81 120.95 L425.19 120.95 L425.57 120.95 L425.94 120.95 L426.32 120.95 L426.70 120.95 L427.08 120.95 L427.46 120.95 L427.84 120.95 L428.22 120.95 L428.60 120.95"/>
<path stroke="#b4202c" d="M69.00 196.81 L69.50 196.77 L70.00 196.72 L70.50 196.68 L71.00 196.64 L71.50 196.59 L72.00 196.55 L72.50 196.51 L73.00 196.47 L73.50 196.43 L74.00 196.39 L74.50 196.36 L75.00 196.32 L75.50 196.28 L76.00 196.25 L76.50 196.21 L77.00 196.18 L77.50 196.14 L78.00 196.11 L78.50 196.08 L79.00 196.04 L79.50 196.01 L80.00 195.98 L80.50 195.95 L81.00 195.92 L81.50 195.89 L82.00 195.86 L82.50 195.82 L83.00 195.79 L83.50 195.76 L84.00 195.73 L84.50 195.70 L85.00 195.68 L85.50 195.65 L86.00 195.62 L86.50 195.59 L87.00 195.56 L87.50 195.53 L88.00 195.50 L88.50 195.47 L89.00 195.44 L89.50 195.41 L90.00 195.38 L90.50 195.35 L91.00 195.32 L91.50 195.29 L92.00 195.26 L92.50 195.23 L93.00 195.20 L93.50 195.17 L94.00 195.14 L94.50 195.11 L95.00 195.08 L95.50 195.05 L96.00 195.01 L96.50 194.98 L97.00 194.95 L97.50 194.92 L98.00 194.88 L98.50 194.85 L99.00 194.82 L99.50 194.78 L100.00 194.75 L100.50 194.71 L101.00 194.68 L101.50 194.64 L102.00 194.60 L102.50 194.57 L103.00 194.53 L103.50 194.49 L104.00 194.45 L104.50 194.41 L105.00 194.37 L105.50 194.33 L106.00 194.29 L106.50 194.25 L107.00 194.21 L107.50 194.17 L108.00 194.12 L108.50 194.08 L109.00 194.04 L109.50 193.99 L110.00 193.95 L110.50 193.90 L111.00 193.85 L111.50 193.81 L112.00 193.76 L112.50 193.71 L113.00 193.66 L113.50 193.61 L114.00 193.56 L114.50 193.51 L115.00 193.46 L115.50 193.41 L116.00 193.36 L116.50 193.30 L117.00 193.25 L117.50 193.20 L118.00 193.14 L118.50 193.09 L119.00 193.03 L119.50 192.97 L120.00 192.91 L120.50 192.86 L121.00 192.80 L121.50 192.74 L122.00 192.68 L122.50 192.62 L123.00 192.56 L123.50 192.49 L124.00 192.43 L124.50 192.37 L125.00 192.30 L125.50 192.24 L126.00 192.18 L126.50 192.11 L127.00 192.04 L127.50 191.98 L128.00 191.91 L128.50 191.84 L129.00 191.77 L129.50 191.71 L130.00 191.64 L130.50 191.57 L131.00 191.50 L131.50 191.43 L132.00 191.35 L132.50 191.28 L133.00 191.21 L133.50 191.14 L134.00 191.06 L134.50 190.99 L135.00 190.91 L135.50 190.84 L136.00 190.76 L136.50 190.68 L137.00 190.60 L137.50 190.52 L138.00 190.44 L138.50 190.36 L139.00 190.27 L139.50 190.19 L140.00 190.10 L140.50 190.01 L141.00 189.91 L141.50 189.82 L142.00 189.72 L142.50 189.62 L143.00 189.52 L143.50 189.41 L144.00 189.30 L144.50 189.19 L145.00 189.07 L145.50 188.95 L146.00 188.82 L146.50 188.70 L147.00 188.56 L147.50 188.42 L148.00 188.28 L148.50 188.12 L149.00 187.97 L149.50 187.80 L150.00 187.63 L150.50 187.46 L151.00 187.27 L151.50 187.08 L152.00 186.88 L152.50 186.67 L153.00 186.46 L153.50 186.23 L154.00 186.00 L154.50 185.75 L155.00 185.50 L155.50 185.23 L156.00 184.96 L156.50 184.67 L157.00 184.37 L157.50 184.06 L158.00 183.73 L158.50 183.39 L159.00 183.04 L159.50 182.67 L160.00 182.29 L160.50 181.90 L161.00 181.48 L161.50 181.06 L162.00 180.61 L162.50 180.15 L163.00 179.67 L163.50 179.17 L164.00 178.66 L164.50 178.12 L165.00 177.56 L165.50 176.99 L166.00 176.39 L166.50 175.78 L167.00 175.14 L167.50 174.48 L168.00 173.80 L168.50 173.10 L169.00 172.37 L169.50 171.62 L170.00 170.85 L170.50 170.06 L171.00 169.24 L171.50 168.41 L172.00 167.54 L172.50 166.66 L173.00 165.76 L173.50 164.84 L174.00 163.92 L174.50 162.99 L175.00 162.06 L175.50 161.16 L176.00 160.26 L176.50 159.40 L177.00 158.55 L177.50 157.74 L178.00 156.95 L178.50 156.18 L179.00 155.45 L179.50 154.74 L180.00 154.05 L180.50 153.39 L181.00 152.75 L181.50 152.13 L182.00 151.54 L182.50 150.97 L183.00 150.41 L183.50 149.88 L184.00 149.36 L184.50 148.86 L185.00 148.37 L185.50 147.90 L186.00 147.44 L186.50 147.00 L187.00 146.57 L187.50 146.15 L188.00 145.75 L188.50 145.36 L189.00 144.98 L189.50 144.61 L190.00 144.25 L190.50 143.90 L191.00 143.56 L191.50 143.23 L192.00 142.91 L192.50 142.60 L193.00 142.30 L193.50 142.00 L194.00 141.72 L194.50 141.44 L195.00 141.17 L195.50 140.91 L196.00 140.66 L196.50 140.41 L197.00 140.17 L197.50 139.94 L198.00 139.72 L198.50 139.50 L199.00 139.29 L199.50 139.09 L201.00 138.52 L202.00 138.17 L203.00 137.83 L204.00 137.52 L205.00 137.23 L206.00 136.95 L207.00 136.69 L208.00 136.45 L209.00 136.21 L210.00 136.00 L211.00 135.79 L212.00 135.60 L213.00 135.42 L214.00 135.25 L215.00 135.09 L216.00 134.94 L217.00 134.79 L218.00 134.66 L219.00 134.53 L220.00 134.41 L221.00 134.30 L222.00 134.19 L223.00 134.09 L224.00 134.00 L225.00 133.91 L226.00 133.82 L227.00 133.75 L228.00 133.67 L229.00 133.60 L230.00 133.53 L231.00 133.47 L232.00 133.41 L233.00 133.35 L234.00 133.30 L235.00 133.25 L236.00 133.20 L237.00 133.16 L238.00 133.12 L239.00 133.08 L240.00 133.04 L241.00 133.00 L242.00 132.97 L243.00 132.94 L244.00 132.91 L245.00 132.88 L246.00 132.85 L247.00 132.82 L248.00 132.80 L249.00 132.78 L250.00 132.75 L251.00 132.73 L252.00 132.71 L253.00 132.69 L254.00 132.67 L255.00 132.66 L256.00 132.64 L257.00 132.63 L258.00 132.61 L259.00 132.60 L260.00 132.58 L261.00 132.57 L262.00 132.56 L263.00 132.55 L264.00 132.54 L265.00 132.52 L266.00 132.51 L267.00 132.50 L268.00 132.50 L269.00 132.49 L270.00 132.48 L271.00 132.47 L272.00 132.46 L273.00 132.45 L274.00 132.45 L275.00 132.44 L276.00 132.43 L277.00 132.43 L278.00 132.42 L279.00 132.42 L280.00 132.41 L281.00 132.40 L282.00 132.40 L283.00 132.39 L284.00 132.39 L285.00 132.38 L286.00 132.38 L287.00 132.38 L288.00 132.37 L289.00 132.37 L290.00 132.36 L291.00 132.36 L292.00 132.36 L293.00 132.35 L294.00 132.35 L295.00 132.34 L296.00 132.34 L297.00 132.34 L298.00 132.34 L299.00 132.33 L300.00 132.33 L301.00 132.33 L302.00 132.32 L303.00 132.32 L304.00 132.32 L305.00 132.32 L306.00 132.31 L307.00 132.31 L308.00 132.31 L309.00 132.31 L310.00 132.30 L311.00 132.30 L312.00 132.30 L313.00 132.30 L314.00 132.30 L315.00 132.29 L316.00 132.29 L317.00 132.29 L318.00 132.29 L319.00 132.29 L320.00 132.29 L321.00 132.28 L322.00 132.28 L323.00 132.28 L324.00 132.28 L325.00 132.28 L326.00 132.28 L327.00 132.27 L328.00 132.27 L329.00 132.27 L330.00 132.27 L331.00 132.27 L332.00 132.27 L333.00 132.27 L334.00 132.27 L335.00 132.26 L336.00 132.26 L337.00 132.26 L338.00 132.26 L339.00 132.26 L340.00 132.26 L341.00 132.26 L342.00 132.26 L343.00 132.26 L344.00 132.25 L345.00 132.25 L346.00 132.25 L347.00 132.25 L348.00 132.25 L349.00 132.25 L350.00 132.25 L351.00 132.25 L352.00 132.25 L353.00 132.25 L354.00 132.25 L355.00 132.24 L356.00 132.24 L357.00 132.24 L358.00 132.24 L359.00 132.24 L360.00 132.24 L361.00 132.24 L362.00 132.24 L363.00 132.24 L364.00 132.24 L365.00 132.24 L366.00 132.24 L367.00 132.24 L368.00 132.23 L369.00 132.23 L370.00 132.23 L371.00 132.23 L372.00 132.23 L373.00 132.23 L374.00 132.23 L375.00 132.23 L376.00 132.23 L377.00 132.23 L378.00 132.23 L379.00 132.23 L380.00 132.23 L381.00 132.23 L382.00 132.23 L383.00 132.23 L384.00 132.23 L385.00 132.23 L386.00 132.23 L387.00 132.22 L388.00 132.22 L389.00 132.22 L390.00 132.22 L391.00 132.22 L392.00 132.22 L393.00 132.22 L394.00 132.22 L395.00 132.22 L396.00 132.22 L397.00 132.22 L398.00 132.22 L399.00 132.22 L400.00 132.22 L401.00 132.22 L402.00 132.22 L403.00 132.22 L404.00 132.22 L405.00 132.22 L406.00 132.22 L407.00 132.22 L408.00 132.22 L409.00 132.22 L410.00 132.22 L411.00 132.22 L412.00 132.22 L413.00 132.22 L414.00 132.22 L415.00 132.21 L416.00 132.21 L417.00 132.21 L418.00 132.21 L419.00 132.21 L420.00 132.21 L421.00 132.21 L422.00 132.21 L423.00 132.21 L424.00 132.21 L425.00 132.21 L426.00 132.21 L427.00 132.21 L428.00 132.21 L428.60 132.21"/>
<path stroke="#1eae30" d="M69.00 190.90 L69.50 190.95 L70.00 191.01 L70.50 191.06 L71.00 191.12 L71.50 191.17 L72.00 191.23 L72.50 191.29 L73.00 191.34 L73.50 191.40 L74.00 191.46 L74.50 191.52 L75.00 191.58 L75.50 191.64 L76.00 191.70 L76.50 191.76 L77.00 191.82 L77.50 191.88 L78.00 191.94 L78.50 192.00 L79.00 192.07 L79.50 192.13 L80.00 192.19 L80.50 192.26 L81.00 192.32 L81.50 192.39 L82.00 192.45 L82.50 192.52 L83.00 192.58 L83.50 192.65 L84.00 192.72 L84.50 192.78 L85.00 192.85 L85.50 192.92 L86.00 192.99 L86.50 193.05 L87.00 193.12 L87.50 193.19 L88.00 193.26 L88.50 193.33 L89.00 193.40 L89.50 193.47 L90.00 193.54 L90.50 193.61 L91.00 193.68 L91.50 193.75 L92.00 193.83 L92.50 193.90 L93.00 193.97 L93.50 194.04 L94.00 194.11 L94.50 194.19 L95.00 194.26 L95.50 194.33 L96.00 194.41 L96.50 194.48 L97.00 194.55 L97.50 194.63 L98.00 194.70 L98.50 194.78 L99.00 194.85 L99.50 194.93 L100.00 195.01 L100.50 195.09 L101.00 195.18 L101.50 195.26 L102.00 195.35 L102.50 195.43 L103.00 195.51 L103.50 195.60 L104.00 195.68 L104.50 195.76 L105.00 195.84 L105.50 195.92 L106.00 196.00 L106.50 196.08 L107.00 196.15 L107.50 196.23 L108.00 196.30 L108.50 196.37 L109.00 196.45 L109.50 196.52 L110.00 196.59 L110.50 196.67 L111.00 196.74 L111.50 196.81 L112.00 196.88 L112.50 196.95 L113.00 197.02 L113.50 197.09 L114.00 197.16 L114.50 197.23 L115.00 197.30 L115.50 197.37 L116.00 197.44 L116.50 197.51 L117.00 197.57 L117.50 197.64 L118.00 197.71 L118.50 197.78 L119.00 197.85 L119.50 197.92 L120.00 197.99 L120.50 198.06 L121.00 198.13 L121.50 198.20 L122.00 198.27 L122.50 198.34 L123.00 198.41 L123.50 198.48 L124.00 198.56 L124.50 198.63 L125.00 198.70 L125.50 198.77 L126.00 198.84 L126.50 198.92 L127.00 198.99 L127.50 199.06 L128.00 199.13 L128.50 199.20 L129.00 199.27 L129.50 199.33 L130.00 199.40 L130.50 199.47 L131.00 199.54 L131.50 199.61 L132.00 199.68 L132.50 199.75 L133.00 199.82 L133.50 199.89 L134.00 199.96 L134.50 200.03 L135.00 200.10 L135.50 200.17 L136.00 200.25 L136.50 200.32 L137.00 200.39 L137.50 200.47 L138.00 200.55 L138.50 200.62 L139.00 200.70 L139.50 200.78 L140.00 200.86 L140.50 200.94 L141.00 201.02 L141.50 201.11 L142.00 201.20 L142.50 201.28 L143.00 201.37 L143.50 201.46 L144.00 201.56 L144.50 201.65 L145.00 201.75 L145.50 201.85 L146.00 201.96 L146.50 202.07 L147.00 202.18 L147.50 202.29 L148.00 202.41 L148.50 202.53 L149.00 202.65 L149.50 202.77 L150.00 202.90 L150.50 203.03 L151.00 203.16 L151.50 203.29 L152.00 203.42 L152.50 203.55 L153.00 203.69 L153.50 203.83 L154.00 203.97 L154.50 204.11 L155.00 204.26 L155.50 204.41 L156.00 204.56 L156.50 204.72 L157.00 204.88 L157.50 205.04 L158.00 205.20 L158.50 205.37 L159.00 205.54 L159.50 205.72 L160.00 205.90 L160.50 206.09 L161.00 206.28 L161.50 206.48 L162.00 206.69 L162.50 206.91 L163.00 207.13 L163.50 207.36 L164.00 207.59 L164.50 207.83 L165.00 208.07 L165.50 208.31 L166.00 208.55 L166.50 208.80 L167.00 209.05 L167.50 209.31 L168.00 209.57 L168.50 209.84 L169.00 210.11 L169.50 210.38 L170.00 210.66 L170.50 210.94 L171.00 211.23 L171.50 211.51 L172.00 211.80 L172.50 212.09 L173.00 212.37 L173.50 212.67 L174.00 212.98 L174.50 213.29 L175.00 213.61 L175.50 213.93 L176.00 214.24 L176.50 214.56 L177.00 214.87 L177.50 215.17 L178.00 215.46 L178.50 215.74 L179.00 216.00 L179.50 216.25 L180.00 216.50 L180.50 216.74 L181.00 216.97 L181.50 217.20 L182.00 217.42 L182.50 217.64 L183.00 217.86 L183.50 218.07 L184.00 218.27 L184.50 218.48 L185.00 218.68 L185.50 218.88 L186.00 219.08 L186.50 219.27 L187.00 219.47 L187.50 219.66 L188.00 219.85 L188.50 220.04 L189.00 220.22 L189.50 220.40 L190.00 220.57 L190.50 220.73 L191.00 220.89 L191.50 221.04 L192.00 221.18 L192.50 221.32 L193.00 221.45 L193.50 221.58 L194.00 221.71 L194.50 221.83 L195.00 221.95 L195.50 222.06 L196.00 222.17 L196.50 222.28 L197.00 222.39 L197.50 222.49 L198.00 222.60 L198.50 222.71 L199.00 222.81 L199.50 222.92 L200.00 223.02 L200.50 223.13 L201.00 223.23 L201.50 223.32 L202.00 223.42 L202.50 223.51 L203.00 223.59 L203.50 223.67 L204.00 223.75 L204.50 223.81 L205.00 223.87 L205.50 223.93 L206.00 223.99 L206.50 224.04 L207.00 224.09 L207.50 224.13 L208.00 224.18 L208.50 224.22 L209.00 224.26 L209.50 224.30 L210.00 224.34 L210.50 224.38 L211.00 224.43 L211.50 224.47 L212.00 224.51 L212.50 224.55 L213.00 224.60 L213.50 224.65 L214.00 224.70 L214.50 224.75 L215.00 224.81 L215.50 224.88 L216.00 224.94 L216.50 225.01 L217.00 225.07 L217.50 225.13 L218.00 225.19 L218.50 225.24 L219.00 225.28 L219.50 225.32 L220.00 225.36 L220.50 225.40 L221.00 225.43 L221.50 225.46 L222.00 225.49 L222.50 225.52 L223.00 225.55 L223.50 225.58 L224.00 225.61 L224.50 225.63 L225.00 225.66 L225.50 225.68 L226.00 225.71 L226.50 225.73 L227.00 225.75 L227.50 225.77 L228.00 225.79 L228.50 225.81 L229.00 225.83 L229.50 225.85 L230.00 225.86 L230.50 225.88 L231.00 225.90 L231.50 225.92 L232.00 225.94 L232.50 225.96 L233.00 225.97 L233.50 225.99 L234.00 226.01 L234.50 226.02 L235.00 226.04 L235.50 226.06 L236.00 226.07 L236.50 226.09 L237.00 226.10 L237.50 226.12 L238.00 226.13 L238.50 226.15 L239.00 226.16 L239.50 226.17 L240.00 226.19 L240.50 226.20 L241.00 226.21 L241.50 226.22 L242.00 226.23 L242.50 226.24 L243.00 226.25 L243.50 226.26 L244.00 226.27 L244.50 226.28 L245.00 226.28 L245.50 226.29 L246.00 226.29 L246.50 226.30 L247.00 226.30 L247.50 226.31 L248.00 226.31 L248.50 226.31 L249.00 226.32 L249.50 226.32 L250.00 226.32 L250.50 226.33 L251.00 226.33 L251.50 226.33 L252.00 226.34 L252.50 226.34 L253.00 226.34 L253.50 226.35 L254.00 226.35 L254.50 226.35 L255.00 226.36 L255.50 226.36 L256.00 226.36 L256.50 226.36 L257.00 226.37 L257.50 226.37 L258.00 226.37 L258.50 226.37 L259.00 226.38 L259.50 226.38 L260.00 226.38 L260.50 226.38 L261.00 226.38 L261.50 226.38 L262.00 226.39 L262.50 226.39 L263.00 226.39 L263.50 226.39 L264.00 226.39 L264.50 226.39 L265.00 226.39 L265.50 226.40 L266.00 226.40 L266.50 226.40 L267.00 226.40 L267.50 226.40 L268.00 226.40 L268.50 226.40 L269.00 226.40 L269.50 226.40 L270.00 226.40 L270.50 226.40 L271.00 226.40 L271.50 226.40 L272.00 226.40 L272.50 226.40 L273.00 226.40 L273.50 226.40 L274.00 226.40 L274.50 226.40 L275.00 226.40 L275.50 226.40 L276.00 226.40 L276.50 226.40 L277.00 226.40 L277.50 226.40 L278.00 226.40 L278.50 226.40 L279.00 226.40 L279.50 226.40 L280.00 226.40 L280.50 226.40 L281.00 226.40 L281.50 226.40 L282.00 226.40 L282.50 226.40 L283.00 226.40 L283.50 226.40 L284.00 226.40 L284.50 226.40 L285.00 226.40 L285.50 226.40 L286.00 226.40 L286.50 226.40 L287.00 226.40 L287.50 226.40 L288.00 226.40 L288.50 226.40 L289.00 226.40 L289.50 226.40 L290.00 226.40 L290.50 226.40 L291.00 226.40 L291.50 226.40 L292.00 226.40 L292.50 226.40 L293.00 226.40 L293.50 226.40 L294.00 226.40 L294.50 226.40 L295.00 226.40 L295.50 226.40 L296.00 226.40 L296.50 226.40 L297.00 226.40 L297.50 226.40 L298.00 226.40 L298.50 226.40 L299.00 226.40 L299.50 226.40 L300.00 226.40 L300.50 226.40 L301.00 226.40 L301.50 226.40 L302.00 226.40 L302.50 226.40 L303.00 226.40 L303.50 226.40 L304.00 226.40 L304.50 226.40 L305.00 226.40 L305.50 226.40 L306.00 226.40 L306.50 226.40 L307.00 226.40 L307.50 226.40 L308.00 226.40 L308.50 226.40 L309.00 226.40 L309.50 226.40 L310.00 226.40 L310.50 226.40 L311.00 226.40 L311.50 226.40 L312.00 226.40 L312.50 226.40 L313.00 226.40 L313.50 226.40 L314.00 226.40 L314.50 226.40 L315.00 226.40 L315.50 226.40 L316.00 226.40 L316.50 226.40 L317.00 226.40 L317.50 226.40 L318.00 226.40 L318.50 226.40 L319.00 226.40 L319.50 226.40 L320.00 226.40 L320.50 226.40 L321.00 226.40 L321.50 226.40 L322.00 226.40 L322.50 226.40 L323.00 226.40 L323.50 226.40 L324.00 226.40 L324.50 226.40 L325.00 226.40 L325.50 226.40 L326.00 226.40 L326.50 226.40 L327.00 226.40 L327.50 226.40 L328.00 226.40 L328.50 226.40 L329.00 226.40 L329.50 226.40 L330.00 226.40 L330.50 226.40 L331.00 226.40 L331.50 226.40 L332.00 226.40 L332.50 226.40 L333.00 226.40 L333.50 226.40 L334.00 226.40 L334.50 226.40 L335.00 226.40 L335.50 226.40 L336.00 226.40 L336.50 226.40 L337.00 226.40 L337.50 226.40 L338.00 226.40 L338.50 226.40 L339.00 226.40 L339.50 226.40 L340.00 226.40 L340.50 226.40 L341.00 226.40 L341.50 226.40 L342.00 226.40 L342.50 226.40 L343.00 226.40 L343.50 226.40 L344.00 226.40 L344.50 226.40 L345.00 226.40 L345.50 226.40 L346.00 226.40 L346.50 226.40 L347.00 226.40 L347.50 226.40 L348.00 226.40 L348.50 226.40 L349.00 226.40 L349.50 226.40 L350.00 226.40 L350.50 226.40 L351.00 226.40 L351.50 226.40 L352.00 226.40 L352.50 226.40 L353.00 226.40 L353.50 226.40 L354.00 226.40 L354.50 226.40 L355.00 226.40 L355.50 226.40 L356.00 226.40 L356.50 226.40 L357.00 226.40 L357.50 226.40 L358.00 226.40 L358.50 226.40 L359.00 226.40 L359.50 226.40 L360.00 226.40 L360.50 226.40 L361.00 226.40 L361.50 226.40 L362.00 226.40 L362.50 226.40 L363.00 226.40 L363.50 226.40 L364.00 226.40 L364.50 226.40 L365.00 226.40 L365.50 226.40 L366.00 226.40 L366.50 226.40 L367.00 226.40 L367.50 226.40 L368.00 226.40 L368.50 226.40 L369.00 226.40 L369.50 226.40 L370.00 226.40 L370.50 226.40 L371.00 226.40 L371.50 226.40 L372.00 226.40 L372.50 226.40 L373.00 226.40 L373.50 226.40 L374.00 226.40 L374.50 226.40 L375.00 226.40 L375.50 226.40 L376.00 226.40 L376.50 226.40 L377.00 226.40 L377.50 226.40 L378.00 226.40 L378.50 226.40 L379.00 226.40 L379.50 226.40 L380.00 226.40 L380.50 226.40 L381.00 226.40 L381.50 226.40 L382.00 226.40 L382.50 226.40 L383.00 226.40 L383.50 226.40 L384.00 226.40 L384.50 226.40 L385.00 226.40 L385.50 226.40 L386.00 226.40 L386.50 226.40 L387.00 226.40 L387.50 226.40 L388.00 226.40 L388.50 226.40 L389.00 226.40 L389.50 226.40 L390.00 226.40 L390.50 226.40 L391.00 226.40 L391.50 226.40 L392.00 226.40 L392.50 226.40 L393.00 226.40 L393.50 226.40 L394.00 226.40 L394.50 226.40 L395.00 226.40 L395.50 226.40 L396.00 226.40 L396.50 226.40 L397.00 226.40 L397.50 226.40 L398.00 226.40 L398.50 226.40 L399.00 226.40 L399.50 226.40 L400.00 226.40 L400.50 226.40 L401.00 226.40 L401.50 226.40 L402.00 226.40 L402.50 226.40 L403.00 226.40 L403.50 226.40 L404.00 226.40 L404.50 226.40 L405.00 226.40 L405.50 226.40 L406.00 226.40 L406.50 226.40 L407.00 226.40 L407.50 226.40 L408.00 226.40 L408.50 226.40 L409.00 226.40 L409.50 226.40 L410.00 226.40 L410.50 226.40 L411.00 226.40 L411.50 226.40 L412.00 226.40 L412.50 226.40 L413.00 226.40 L413.50 226.40 L414.00 226.40 L414.50 226.40 L415.00 226.40 L415.50 226.40 L416.00 226.40 L416.50 226.40 L417.00 226.40 L417.50 226.40 L418.00 226.40 L418.50 226.40 L419.00 226.40 L419.50 226.40 L420.00 226.40 L420.50 226.40 L421.00 226.40 L421.50 226.40 L422.00 226.40 L422.50 226.40 L423.00 226.40 L423.50 226.40 L424.00 226.40 L424.50 226.40 L425.00 226.40 L425.50 226.40 L426.00 226.40 L426.50 226.40 L427.00 226.40 L427.50 226.40 L428.00 226.40 L428.50 226.40 L428.60 226.40"/>
</g>
<path d="M69.5 231.4 V228.6 M69.5 0.2 V3.0 M88.5 231.4 V228.6 M88.5 0.2 V3.0 M107.5 231.4 V228.6 M107.5 0.2 V3.0 M125.5 231.4 V226.5 M125.5 0.2 V5.1 M144.5 231.4 V228.6 M144.5 0.2 V3.0 M163.5 231.4 V228.6 M163.5 0.2 V3.0 M182.5 231.4 V228.6 M182.5 0.2 V3.0 M201.5 231.4 V226.5 M201.5 0.2 V5.1 M220.5 231.4 V228.6 M220.5 0.2 V3.0 M239.5 231.4 V228.6 M239.5 0.2 V3.0 M258.5 231.4 V228.6 M258.5 0.2 V3.0 M277.5 231.4 V226.5 M277.5 0.2 V5.1 M296.5 231.4 V228.6 M296.5 0.2 V3.0 M315.5 231.4 V228.6 M315.5 0.2 V3.0 M334.5 231.4 V228.6 M334.5 0.2 V3.0 M353.5 231.4 V226.5 M353.5 0.2 V5.1 M372.5 231.4 V228.6 M372.5 0.2 V3.0 M390.5 231.4 V228.6 M390.5 0.2 V3.0 M409.5 231.4 V228.6 M409.5 0.2 V3.0 M428.5 231.4 V226.5 M428.5 0.2 V5.1 M61.6 226.5 H66.1 M435.4 226.5 H430.9 M61.6 215.5 H64.2 M435.4 215.5 H432.8 M61.6 205.5 H64.2 M435.4 205.5 H432.8 M61.6 194.5 H64.2 M435.4 194.5 H432.8 M61.6 184.5 H64.2 M435.4 184.5 H432.8 M61.6 173.5 H66.1 M435.4 173.5 H430.9 M61.6 163.5 H64.2 M435.4 163.5 H432.8 M61.6 152.5 H64.2 M435.4 152.5 H432.8 M61.6 142.5 H64.2 M435.4 142.5 H432.8 M61.6 131.5 H64.2 M435.4 131.5 H432.8 M61.6 120.5 H66.1 M435.4 120.5 H430.9 M61.6 110.5 H64.2 M435.4 110.5 H432.8 M61.6 99.5 H64.2 M435.4 99.5 H432.8 M61.6 89.5 H64.2 M435.4 89.5 H432.8 M61.6 78.5 H64.2 M435.4 78.5 H432.8 M61.6 68.5 H66.1 M435.4 68.5 H430.9 M61.6 57.5 H64.2 M435.4 57.5 H432.8 M61.6 47.5 H64.2 M435.4 47.5 H432.8 M61.6 36.5 H64.2 M435.4 36.5 H432.8 M61.6 25.5 H64.2 M435.4 25.5 H432.8 M61.6 15.5 H66.1 M435.4 15.5 H430.9 M61.6 4.5 H64.2 M435.4 4.5 H432.8" stroke="#666" stroke-width="0.7" fill="none"/>
<rect x="61.6" y="0.1" width="373.8" height="231.3" fill="none" stroke="#747474" stroke-width="0.75"/>
<g><text x="58.9" y="232.10" text-anchor="end">0.0</text><text x="58.9" y="179.35" text-anchor="end">0.5</text><path transform="translate(32.57 126.85) scale(0.0184 -0.0184) skewX(12)" d="M349 0L349 709L291 709C272 622 216 582 101 571L101 505L259 505L259 0Z" fill="#000"/><text x="58.9" y="126.60" text-anchor="end">.0</text><path transform="translate(32.57 74.10) scale(0.0184 -0.0184) skewX(12)" d="M349 0L349 709L291 709C272 622 216 582 101 571L101 505L259 505L259 0Z" fill="#000"/><text x="58.9" y="73.85" text-anchor="end">.5</text><text x="58.9" y="21.10" text-anchor="end">2.0</text></g>
<g><text x="113.82" y="252.7">−</text><text x="128.32" y="251.2">8</text><text x="189.54" y="252.7">−</text><text x="204.04" y="251.2">6</text><text x="265.26" y="252.7">−</text><text x="279.76" y="251.2">4</text><text x="340.98" y="252.7">−</text><text x="355.48" y="251.2">2</text><text x="429.00" y="251.2" text-anchor="middle">0</text></g>
<text x="247.2" y="279.9">t</text>
<g transform="translate(16.4 157) rotate(-90)">
<g fill="none" stroke="#000" stroke-linecap="round" stroke-linejoin="round">
<g transform="translate(-0.35 0) skewX(-4)"><path stroke-width="1.15" d="M1.3 -6.9 Q2.1 -8.4 3.5 -8.1 L3.9 -7.7 L2.3 -0.1"/>
<path stroke-width="1.15" d="M3.55 -6.0 C4.7 -8.0 6.6 -8.9 7.7 -8.6 C8.7 -8.3 8.8 -7.4 8.55 -6.2 L6.5 3.8"/></g>
<g id="ph" stroke-linecap="butt">
<g transform="translate(13.6 0.2) skewX(-14)"><ellipse rx="2.95" ry="2.75" stroke-width="0.9"/><path stroke-width=".7" d="M0 -5.6 V5.4"/></g>
<g transform="translate(45.0 0.2) skewX(-14)"><ellipse rx="2.95" ry="2.75" stroke-width="0.9"/><path stroke-width=".7" d="M0 -5.6 V5.4"/></g>
<g transform="translate(76.4 0.2) skewX(-14)"><ellipse rx="2.95" ry="2.75" stroke-width="0.9"/><path stroke-width=".7" d="M0 -5.6 V5.4"/></g>
</g>
</g>
<text x="18.2" y="0">,</text>
<text x="29.9" y="0" style="font-size:19.2px">S</text>
<text x="50.6" y="0">,</text>
<text transform="translate(62.5 0) scale(0.9 1)" x="0" y="0" style="font-size:19.2px">V</text>
</g>
</svg>
</body></html>
